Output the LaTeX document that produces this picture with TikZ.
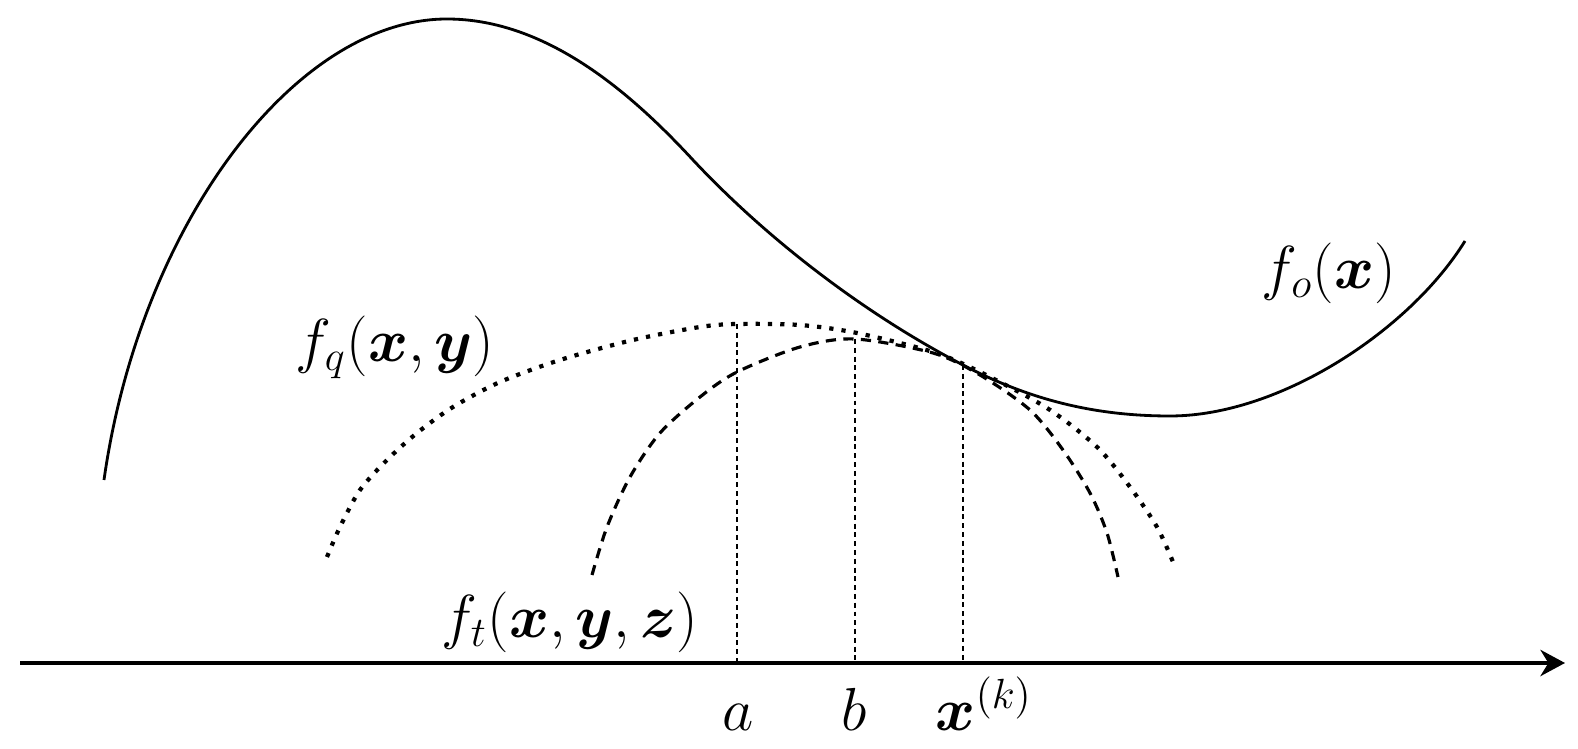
\documentclass[tikz,border=0pt]{standalone}
\usepackage{bm}
\usetikzlibrary{arrows.meta}
\begin{document}
\begin{tikzpicture}[x=0.01cm,y=-0.01cm,
  mainline/.style={line width=0.8pt},
  qline/.style={line width=1.2pt, dash pattern=on 1.2pt off 2.3pt},
  tline/.style={line width=0.9pt, dash pattern=on 2.9pt off 2.1pt},
  guide/.style={line width=0.35pt, dash pattern=on 1.4pt off 1.1pt},
  axisline/.style={line width=0.95pt, -{Stealth[length=7pt,width=7.5pt]}},
  lbl/.style={inner sep=0pt, font=\fontsize{17}{20}\selectfont}]
\useasboundingbox (0,0) rectangle (1578,749);
% objective curve
\draw[mainline] (104,480) .. controls (140,225) and (295,19) .. (447,19)
  .. controls (547,19) and (632,94) .. (693,160)
  .. controls (768,240) and (865,314) .. (963,365)
  .. controls (1030,400) and (1095,416) .. (1170,416)
  .. controls (1280,416) and (1410,330) .. (1465,241);
% quadratic model (dotted)
\draw[qline] plot[smooth] coordinates {(327,557) (340,527) (360,490) (387,460) (417,433) (453,407) (500,382) (560,360) (633,340) (700,327) (737,324) (800,325) (857,333) (933,352) (980,372) (1047,408) (1097,447) (1130,487) (1157,527) (1173,562)};
% third model (dashed)
\draw[tline] plot[smooth] coordinates {(592,575) (607,527) (630,477) (660,433) (700,397) (737,372) (800,347) (855,339) (933,353) (980,375) (1030,410) (1063,450) (1090,493) (1107,533) (1118,577)};
% coordinates
\coordinate (pa) at (737,324);
\coordinate (pb) at (855,339);
\coordinate (pk) at (963,365);
\coordinate (fa) at (737,663);
\coordinate (fb) at (855,663);
\coordinate (fk) at (963,663);
\coordinate (ax0) at (20,663);
\coordinate (ax1) at (1565,663);
\draw[guide] (pa) -- (fa);
\draw[guide] (pb) -- (fb);
\draw[guide] (pk) -- (fk);
\draw[axisline] (ax0) -- (ax1);
% labels
\node[lbl] (lo) at (1329,273) {$f_o(\bm{x})$};
\node[lbl] (lq) at (395,347) {$f_q(\bm{x},\bm{y})$};
\node[lbl] (lt) at (570,622) {$f_t(\bm{x},\bm{y},\bm{z})$};
\node[lbl, anchor=base] (la) at (738,731) {$a$};
\node[lbl, anchor=base] (lb) at (854,731) {$b$};
\node[lbl, anchor=base west] (lk) at (935,731) {$\bm{x}^{(k)}$};
\end{tikzpicture}
\end{document}
